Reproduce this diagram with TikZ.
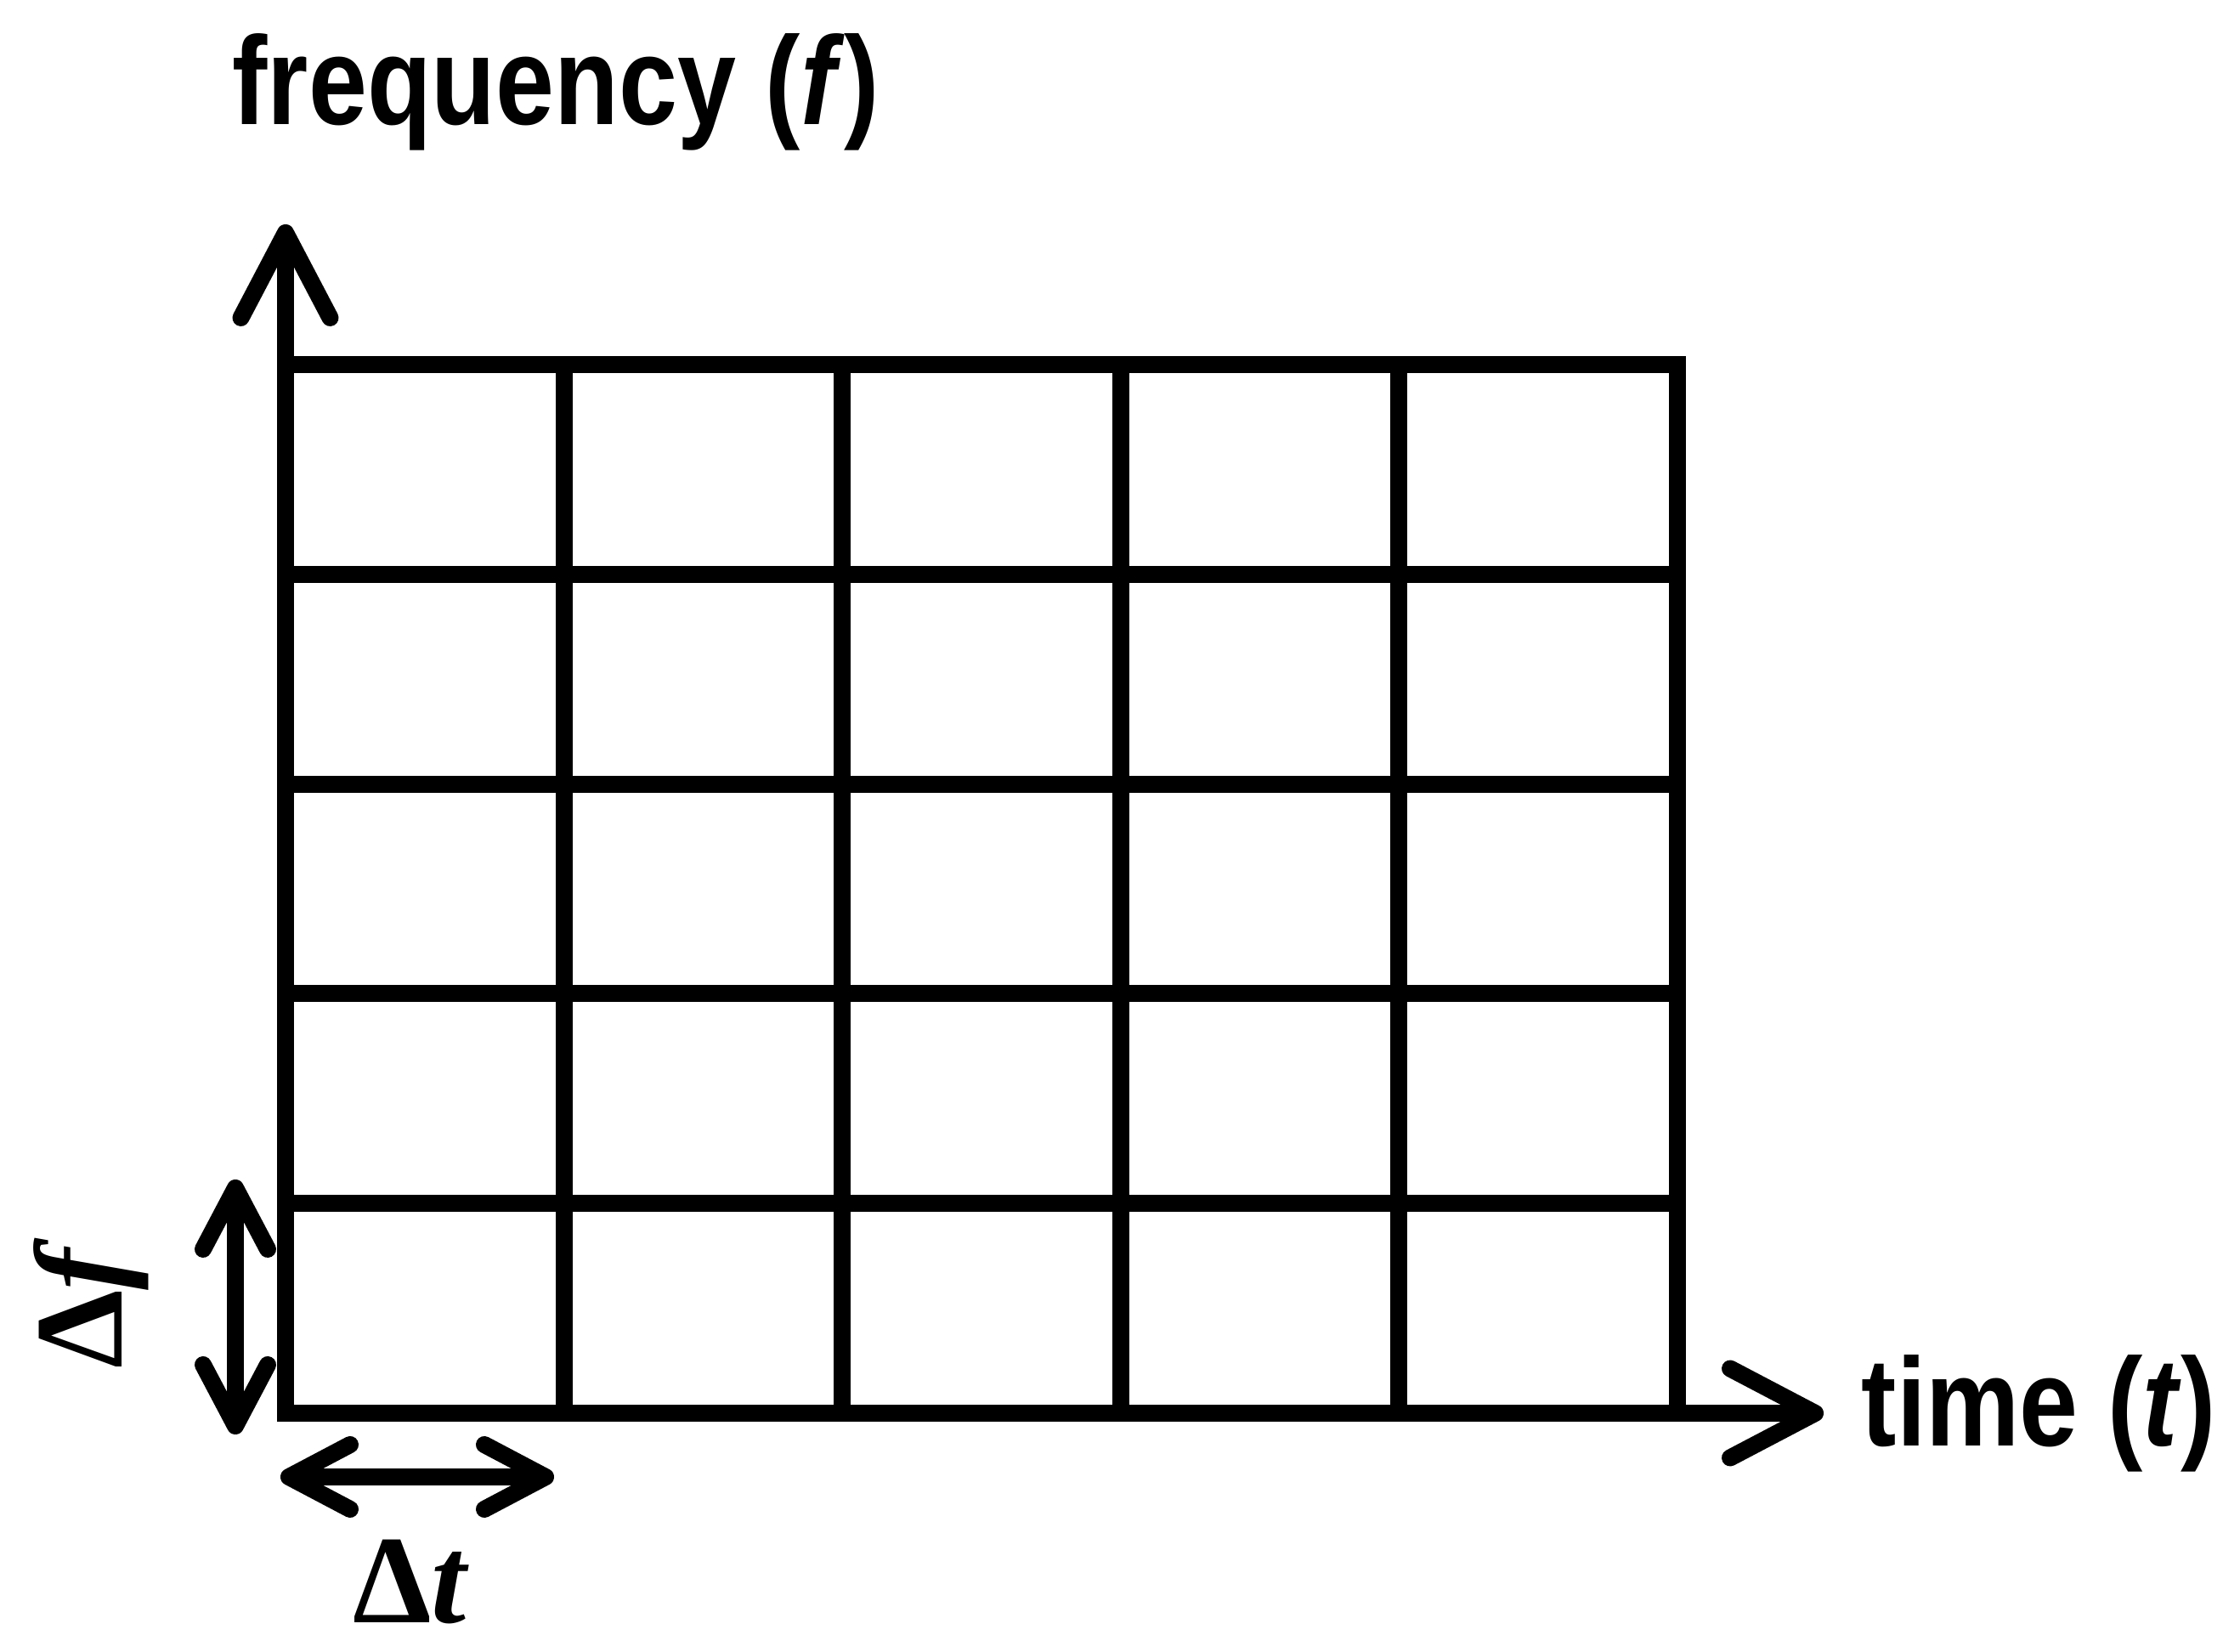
\documentclass[tikz,border=0pt]{standalone}
\usepackage{fontspec}
\newfontfamily\axisfont{Liberation Sans}[FakeStretch=0.84]
\newfontfamily\deltafont{Liberation Serif}
\usetikzlibrary{arrows.meta, positioning, calc}

\begin{document}
\begin{tikzpicture}[
    gridline/.style={line width=0.2cm, line cap=rect},
    axis/.style={line width=0.2cm, -{Straight Barb[length=1.0cm,width=1.05cm,round]}},
    span/.style={line width=0.2cm,
        {Straight Barb[length=0.72cm,width=0.76cm,round]}-{Straight Barb[length=0.72cm,width=0.76cm,round]}},
    axislab/.style={font=\axisfont\bfseries\fontsize{42}{46}\selectfont, inner sep=0pt},
    deltalab/.style={font=\deltafont\bfseries\fontsize{42}{46}\selectfont, inner sep=0pt},
]
\useasboundingbox (0,0) rectangle (26.16,19.44);

% time-frequency grid: 5 x 5 cells
\coordinate (origin) at (3.36,2.81);
\foreach \i in {0,...,5} {
    \draw[gridline] ($(origin)+(\i*3.276,0)$) -- ++(0,12.34);
    \draw[gridline] ($(origin)+(0,\i*2.468)$) -- ++(16.38,0);
}

% axes
\coordinate (ytip) at (3.36,16.80);
\coordinate (xtip) at (21.46,2.81);
\draw[axis] (origin) -- (ytip);
\draw[axis] (origin) -- (xtip);
\node[axislab, anchor=base west] (freqlab) at (2.73,17.97) {frequency (\textit{f})};
\node[axislab, anchor=base west] (timelab) at (21.90,2.42) {time (\textit{t})};

% cell size
\coordinate (df0) at (2.77,2.56);
\coordinate (df1) at (2.77,5.56);
\coordinate (dt0) at (3.30,2.06);
\coordinate (dt1) at (6.52,2.06);
\draw[span] (df0) -- (df1);
\draw[span] (dt0) -- (dt1);
\node[deltalab, rotate=90] (dflab) at (1.07,4.10) {Δ\textit{f}};
\node[deltalab, anchor=base] (dtlab) at (4.84,0.34) {Δ\textit{t}};
\end{tikzpicture}
\end{document}
